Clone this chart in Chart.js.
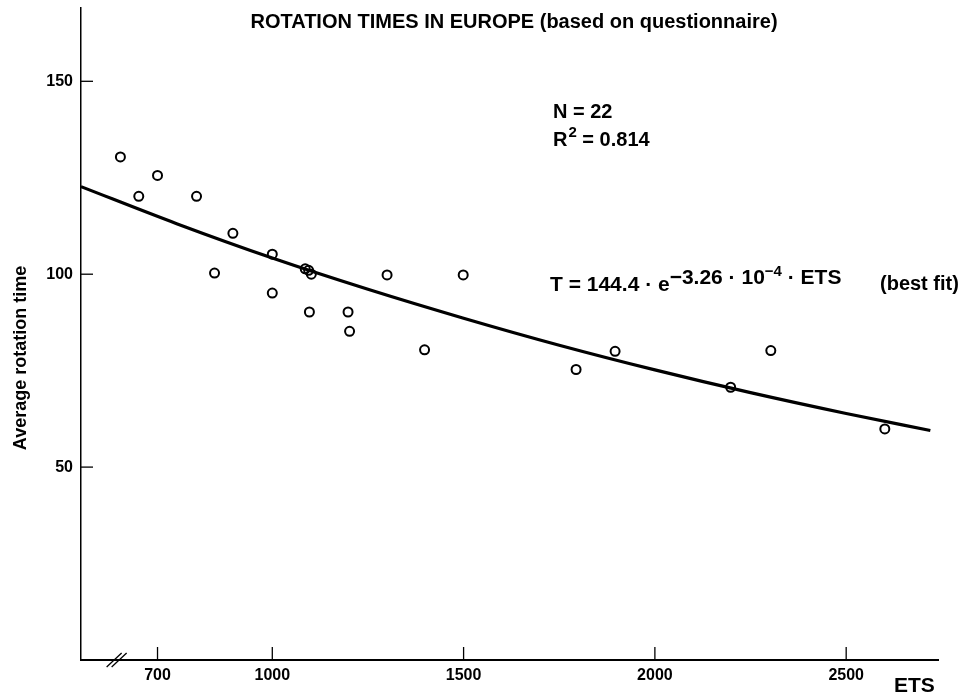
<!DOCTYPE html>
<html>
<head>
<meta charset="utf-8">
<script src="https://cdn.jsdelivr.net/npm/chart.js@4.4.1/dist/chart.umd.min.js"></script>
<style>
  html, body { margin: 0; padding: 0; background: #fff; }
</style>
</head>
<body>
<canvas id="rotation-chart" width="963" height="697"></canvas>
<script>
const FONT = '"Liberation Sans Narrow", "Liberation Sans", Arial, sans-serif';

// questionnaire answers: ETS and average rotation time (22 firms)
const etsValues = [603, 651, 700, 802, 849, 897, 1000, 1000, 1086, 1095, 1102,
                   1097, 1198, 1202, 1300, 1398, 1499, 1794, 1896, 2198, 2303, 2601];
const rotationTimes = [130.4, 120.2, 125.6, 120.2, 100.3, 110.6, 105.2, 95.1, 101.4, 101.0, 100.0,
                       90.2, 90.2, 85.2, 99.8, 80.4, 99.8, 75.3, 80.0, 70.7, 80.2, 59.9];

// best fit line
const fitEts = [500, 750, 1000, 1250, 1500, 1750, 2000, 2250, 2500, 2720];
const fitTimes = [122.7, 113.1, 104.2, 96.1, 88.6, 81.6, 75.2, 69.3, 63.9, 59.5];

const xTickValues = [700, 1000, 1500, 2000, 2500];
const yTickValues = [50, 100, 150];

const scatterPoints = etsValues.map((v, i) => ({ x: v, y: rotationTimes[i] }));
const fitPoints = fitEts.map((v, i) => ({ x: v, y: fitTimes[i] }));

// tick marks point into the plot, plus the axis break and all the free text
const decorations = {
  id: 'decorations',
  afterDraw(chart) {
    const ctx = chart.ctx;
    const x = chart.scales.x;
    const y = chart.scales.y;
    const area = chart.chartArea;

    ctx.save();
    ctx.strokeStyle = '#000';
    ctx.lineWidth = 1.3;
    yTickValues.forEach(v => {
      const py = y.getPixelForValue(v);
      ctx.beginPath();
      ctx.moveTo(area.left, py);
      ctx.lineTo(area.left + 12, py);
      ctx.stroke();
    });
    xTickValues.forEach(v => {
      const px = x.getPixelForValue(v);
      ctx.beginPath();
      ctx.moveTo(px, area.bottom);
      ctx.lineTo(px, area.bottom - 13);
      ctx.stroke();
    });

    // axis break "//"
    const bx = x.getPixelForValue(567);
    [0, 5].forEach(off => {
      ctx.beginPath();
      ctx.moveTo(bx + off, area.bottom + 7);
      ctx.lineTo(bx + off + 15, area.bottom - 7);
      ctx.stroke();
    });

    ctx.fillStyle = '#000';
    ctx.textBaseline = 'alphabetic';

    // title
    ctx.font = 'bold 20px ' + FONT;
    ctx.textAlign = 'center';
    ctx.fillText('ROTATION TIMES IN EUROPE (based on questionnaire)', 514, 28);

    // N and R²
    ctx.textAlign = 'left';
    ctx.font = 'bold 20px ' + FONT;
    ctx.fillText('N = 22', 553, 118);
    ctx.fillText('R', 553, 146);
    let w = ctx.measureText('R').width;
    ctx.font = 'bold 15px ' + FONT;
    ctx.fillText('2', 553 + w + 1, 137);
    let w2 = ctx.measureText('2').width;
    ctx.font = 'bold 20px ' + FONT;
    ctx.fillText(' = 0.814', 553 + w + w2 + 1, 146);

    // fit equation
    let cx = 550;
    ctx.font = 'bold 21px ' + FONT;
    const base = 'T = 144.4 \u00b7 e';
    ctx.fillText(base, cx, 291);
    cx += ctx.measureText(base).width;
    const exp1 = '\u22123.26 \u00b7 10';
    ctx.fillText(exp1, cx, 284);
    cx += ctx.measureText(exp1).width;
    ctx.font = 'bold 15px ' + FONT;
    ctx.fillText('\u22124', cx, 276);
    cx += ctx.measureText('\u22124').width;
    ctx.font = 'bold 21px ' + FONT;
    ctx.fillText(' \u00b7 ETS', cx, 284);
    ctx.font = 'bold 20px ' + FONT;
    ctx.fillText('(best fit)', 880, 290);

    // x axis name
    ctx.font = 'bold 21px ' + FONT;
    ctx.fillText('ETS', 894, 692);

    // y axis name
    ctx.translate(26, 358);
    ctx.rotate(-Math.PI / 2);
    ctx.textAlign = 'center';
    ctx.font = 'bold 18px ' + FONT;
    ctx.fillText('Average rotation time', 0, 0);
    ctx.restore();
  }
};

new Chart(document.getElementById('rotation-chart').getContext('2d'), {
  type: 'scatter',
  data: {
    datasets: [
      {
        label: 'best fit',
        type: 'line',
        data: fitPoints,
        borderColor: '#000',
        borderWidth: 3.2,
        pointRadius: 0,
        fill: false,
        cubicInterpolationMode: 'monotone',
        order: 0
      },
      {
        label: 'firms',
        data: scatterPoints,
        pointStyle: 'circle',
        pointRadius: 4.5,
        pointBorderWidth: 2,
        pointBorderColor: '#000',
        pointBackgroundColor: 'rgba(255,255,255,0)',
        order: 1
      }
    ]
  },
  options: {
    responsive: false,
    animation: false,
    layout: { padding: { left: 0, right: 25, top: 8, bottom: 0 } },
    plugins: {
      legend: { display: false },
      tooltip: { enabled: false },
      title: { display: false }
    },
    scales: {
      x: {
        type: 'linear',
        min: 500,
        max: 2740,
        afterBuildTicks: scale => { scale.ticks = xTickValues.map(v => ({ value: v })); },
        afterFit: scale => {
          scale.height = 37;
          scale.paddingLeft = 0;
          scale.paddingRight = 0;
        },
        grid: { display: false, drawTicks: false },
        border: { display: true, color: '#000', width: 2 },
        ticks: {
          padding: 6,
          color: '#000',
          maxRotation: 0,
          callback: v => String(v),
          font: { family: FONT, size: 16, weight: 'bold' }
        }
      },
      y: {
        type: 'linear',
        min: 0,
        max: 169,
        afterBuildTicks: scale => { scale.ticks = yTickValues.map(v => ({ value: v })); },
        afterFit: scale => {
          scale.width = 81;
          scale.paddingTop = 0;
          scale.paddingBottom = 0;
        },
        grid: { display: false, drawTicks: false },
        border: { display: true, color: '#000', width: 1.5 },
        ticks: {
          padding: 8,
          color: '#000',
          callback: v => String(v),
          font: { family: FONT, size: 16, weight: 'bold' }
        }
      }
    }
  },
  plugins: [decorations]
});
</script>
</body>
</html>
